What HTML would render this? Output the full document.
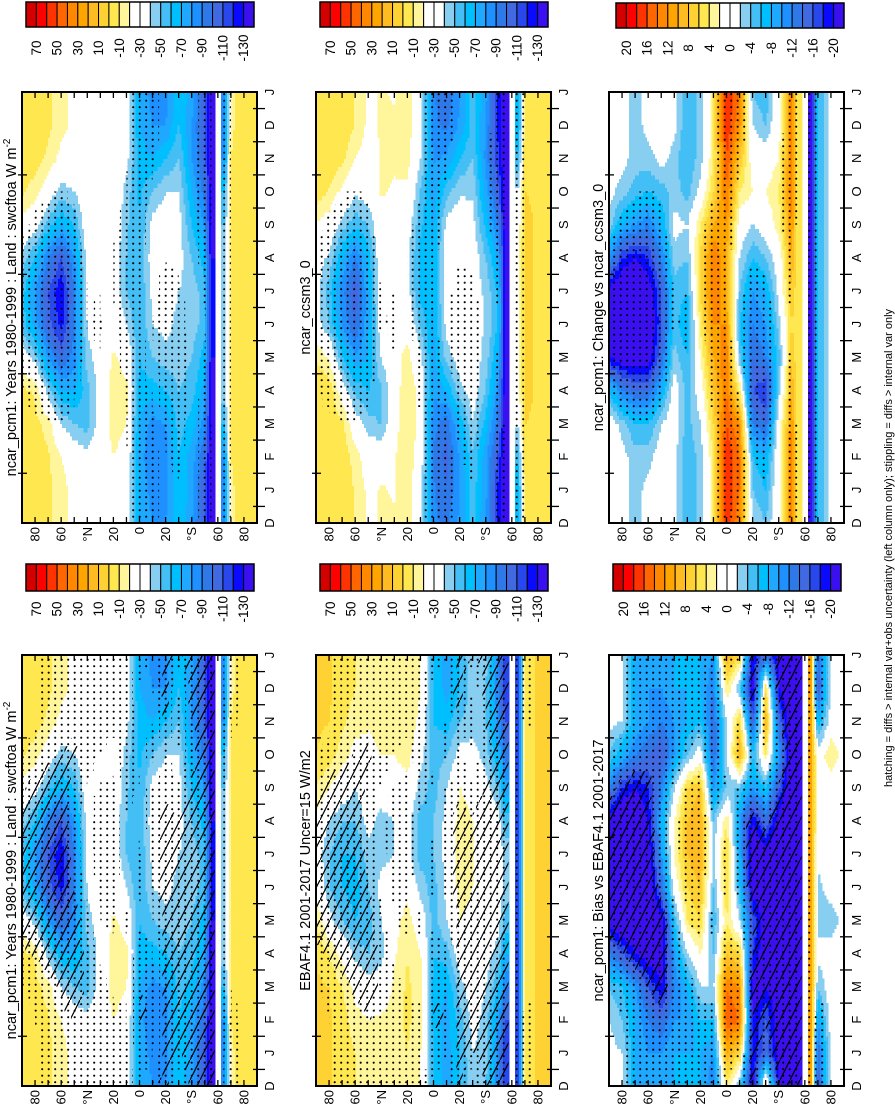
<!DOCTYPE html>
<html><head><meta charset="utf-8">
<style>
html,body{margin:0;padding:0;background:#fff;}
svg{display:block;font-family:"Liberation Sans",Arial,sans-serif;}
</style></head>
<body>
<svg id="fig" width="895" height="1105" viewBox="0 0 895 1105" xmlns="http://www.w3.org/2000/svg">
<defs>
<pattern id="dots" patternUnits="userSpaceOnUse" width="6.5" height="6.5"><circle cx="3.2" cy="3.2" r="1.05" fill="#000"/></pattern>
<pattern id="hatch" patternUnits="userSpaceOnUse" width="10" height="20"><path d="M0,20 L10,0" stroke="#000" stroke-width="1.2" fill="none"/></pattern>
</defs>
<g id="layer"></g>
</svg>
<script>
// ---------- data ----------
const LATS=[90,80,70,60,50,40,30,20,10,0,-10,-20,-30,-40,-50,-55,-60,-65,-70,-80,-90];
const MONTH_LABELS=['D','J','F','M','A','M','J','J','A','S','O','N','D','J'];
const LAT_TICK_VALUES=[80,60,40,20,0,-20,-40,-60,-80];
const LAT_TICK_LABELS=['80','60','°N','20','0','20','°S','60','80'];
const SWCF_LEVELS=[70,60,50,40,30,20,10,0,-10,-20,-30,-40,-50,-60,-70,-80,-90,-100,-110,-120,-130];
const SWCF_LABELS=['70','50','30','10','-10','-30','-50','-70','-90','-110','-130'];
const DIFF_LEVELS=[20,18,16,14,12,10,8,6,4,2,0,-2,-4,-6,-8,-10,-12,-14,-16,-18,-20];
const DIFF_LABELS=['20','16','12','8','4','0','-4','-8','-12','-16','-20'];
const COLORS=['#d40000','#ff0000','#ff3300','#ff6600','#ff8800','#ffa500','#ffbb22','#ffd234','#ffe84f','#fff59a','#ffffff','#ffffff','#87cef0','#44bff5','#00bfff','#1ea8ff','#1e90ff','#2f78e8','#4169e1','#2848ee','#0a0aff','#3a10f0'];

// rows follow LATS, columns Jan..Dec
const PCM1=[
[-3,-3,-3,-6,-30,-55,-55,-45,-25,-8,-3,-3],
[-5,-5,-6,-12,-45,-75,-80,-60,-35,-15,-5,-5],
[-8,-8,-15,-45,-80,-105,-110,-90,-55,-30,-12,-8],
[-15,-20,-40,-70,-100,-125,-130,-110,-70,-45,-25,-15],
[-25,-30,-50,-70,-85,-90,-90,-80,-60,-40,-30,-25],
[-25,-35,-55,-55,-45,-38,-35,-32,-28,-25,-25,-25],
[-25,-25,-30,-32,-32,-30,-28,-25,-25,-25,-25,-25],
[-22,-20,-16,-15,-18,-25,-30,-30,-28,-24,-22,-22],
[-30,-25,-20,-18,-25,-40,-50,-50,-48,-45,-35,-30],
[-70,-75,-70,-65,-60,-60,-60,-60,-60,-62,-65,-70],
[-85,-90,-85,-65,-50,-40,-35,-30,-35,-50,-70,-80],
[-85,-85,-80,-60,-45,-35,-30,-30,-30,-40,-60,-80],
[-60,-60,-55,-50,-45,-45,-40,-35,-35,-40,-50,-60],
[-75,-75,-65,-55,-50,-45,-45,-50,-60,-70,-80,-80],
[-110,-100,-85,-75,-65,-55,-55,-65,-80,-95,-105,-110],
[-140,-140,-135,-135,-130,-130,-130,-130,-135,-135,-140,-140],
null,
[-90,-80,-60,-45,-45,-45,-45,-45,-50,-60,-80,-90],
[-12,-10,-8,-6,-6,-6,-6,-6,-6,-8,-10,-12],
[-5,-5,-5,-5,-5,-5,-5,-5,-5,-5,-5,-5],
[-4,-4,-4,-4,-4,-4,-4,-4,-4,-4,-4,-4]];
const CCSM3=[
[-3,-3,-3,0,-10,-33,-33,-35,-21,-4,0,-3],
[0,0,0,0,-23,-51,-56,-42,-27,-11,-2,-1],
[-2,-2,-7,-31,-58,-81,-86,-70,-45,-24,-7,-2],
[-11,-15,-32,-54,-78,-101,-108,-92,-58,-37,-20,-11],
[-23,-28,-46,-60,-69,-72,-72,-66,-50,-32,-26,-23],
[-19,-29,-51,-52,-39,-30,-27,-26,-24,-19,-19,-19],
[-21,-21,-26,-28,-26,-22,-22,-21,-23,-21,-19,-19],
[-14,-12,-10,-11,-16,-27,-34,-36,-32,-22,-16,-14],
[-34,-29,-26,-26,-35,-52,-64,-64,-58,-51,-39,-34],
[-88,-93,-86,-79,-74,-72,-70,-70,-72,-76,-81,-88],
[-99,-104,-97,-69,-46,-34,-31,-28,-35,-54,-78,-92],
[-81,-79,-68,-44,-31,-23,-20,-24,-28,-42,-60,-78],
[-54,-52,-41,-32,-33,-35,-32,-31,-35,-42,-50,-56],
[-77,-77,-65,-51,-44,-41,-43,-50,-64,-76,-84,-82],
[-124,-114,-97,-85,-73,-61,-63,-75,-92,-109,-119,-124],
[-144,-144,-139,-139,-134,-134,-134,-134,-139,-139,-144,-144],
null,
[-68,-58,-38,-23,-23,-23,-23,-23,-28,-38,-58,-68],
[-4,-2,0,2,2,2,2,2,2,0,-2,-4],
[-1,-1,-1,-1,-1,-1,-1,-1,-1,-1,-1,-1],
[-2,-2,-2,-2,-2,-2,-2,-2,-2,-2,-2,-2]];
const EBAF=[
[2,2,2,0,-10,-25,-30,-25,-10,0,2,2],
[2,2,0,-10,-35,-50,-50,-40,-20,-5,0,2],
[-5,-5,-10,-25,-50,-60,-60,-50,-30,-15,-8,-5],
[-10,-15,-25,-45,-60,-65,-60,-50,-40,-25,-15,-10],
[-15,-20,-35,-50,-55,-50,-45,-35,-30,-25,-18,-15],
[-15,-18,-30,-45,-40,-35,-45,-45,-30,-20,-15,-15],
[-15,-15,-18,-22,-25,-28,-40,-40,-28,-20,-15,-15],
[-10,-8,-8,-10,-15,-25,-35,-35,-25,-15,-10,-10],
[-20,-15,-15,-20,-30,-45,-55,-55,-45,-35,-25,-20],
[-60,-65,-65,-60,-55,-55,-50,-50,-55,-55,-60,-60],
[-75,-75,-70,-55,-40,-35,-35,-35,-40,-50,-65,-75],
[-60,-55,-45,-30,-20,-15,-15,-15,-20,-35,-50,-60],
[-40,-35,-30,-30,-25,-20,-20,-20,-25,-35,-45,-45],
[-45,-45,-40,-35,-30,-25,-20,-25,-35,-45,-50,-50],
[-85,-80,-60,-45,-35,-30,-30,-35,-50,-70,-85,-90],
[-120,-110,-90,-70,-55,-45,-45,-55,-75,-95,-110,-120],
null,
[-120,-120,-120,-120,-120,-120,-120,-120,-120,-120,-120,-120],
[-5,-5,-5,-5,-5,-5,-5,-5,-5,-5,-5,-5],
[2,2,2,2,2,2,2,2,2,2,2,2],
[2,2,2,2,2,2,2,2,2,2,2,2]];
const CHANGE=[
[0,0,0,-6,-20,-22,-22,-10,-3,-1,-1,0],
[-1,-1,-3,-12,-22,-24,-24,-18,-8,-3,-1,-1],
[-3,-3,-6,-14,-22,-24,-24,-20,-10,-5,-3,-3],
[-1,-3,-6,-14,-22,-24,-22,-18,-12,-6,-3,-1],
[0,0,-2,-8,-14,-16,-16,-12,-8,-5,-1,0],
[-1,-1,0,0,-3,-5,-5,-3,-1,-3,-3,-1],
[-6,-6,-5,-5,-6,-8,-6,-4,-2,-5,-6,-6],
[-3,-3,-2,0,2,4,6,6,4,-1,-3,-3],
[4,4,6,8,10,12,14,14,10,6,4,4],
[18,18,16,14,14,12,10,10,12,14,16,18],
[14,14,12,4,-4,-6,-4,-2,0,4,8,12],
[-4,-6,-12,-16,-14,-12,-10,-6,-2,2,0,-2],
[-6,-8,-14,-18,-12,-10,-8,-4,0,2,0,-4],
[1,1,0,-3,-5,-3,-1,0,3,4,2,1],
[14,14,12,10,8,6,8,10,12,14,14,14],
[4,4,4,4,4,4,4,4,4,4,4,4],
null,
[-22,-22,-22,-22,-22,-22,-22,-22,-22,-22,-22,-22],
[-6,-6,-6,-6,-6,-6,-6,-6,-6,-6,-6,-6],
[-1,-1,-1,-1,-1,-1,-1,-1,-1,-1,-1,-1],
[0,0,0,0,0,0,0,0,0,0,0,0]];
const BIAS=[
[-1,-2,-4,-12,-22,-24,-24,-22,-12,-4,-1,-1],
[-2,-4,-6,-16,-24,-24,-24,-24,-18,-8,-2,-2],
[-8,-8,-10,-20,-24,-24,-24,-24,-20,-12,-8,-8],
[-10,-12,-16,-22,-24,-24,-22,-20,-18,-14,-10,-10],
[-10,-14,-20,-22,-22,-14,-10,-8,-12,-16,-12,-10],
[-8,-10,-12,-10,-6,0,2,2,-2,-10,-10,-8],
[-8,-10,-8,-2,4,6,8,8,6,-4,-8,-8],
[-8,-6,-2,2,6,8,10,10,8,0,-6,-8],
[-10,-6,-2,-4,-6,-4,-2,-4,-10,-14,-14,-12],
[10,16,14,8,4,6,6,4,-4,-2,-2,4],
[6,14,12,6,-2,-6,-8,-10,-4,10,6,-4],
[-20,-20,-22,-18,-16,-22,-24,-20,-10,-6,-16,-22],
[-14,-16,-20,-22,-22,-22,-22,-14,-6,4,10,6],
[-22,-22,-22,-22,-22,-22,-22,-22,-16,-10,-14,-20],
[-24,-24,-24,-24,-24,-24,-24,-24,-24,-24,-24,-24],
[-24,-24,-24,-24,-24,-24,-24,-24,-24,-24,-24,-24],
null,
[10,10,10,10,10,10,10,10,10,10,10,10],
[-14,-10,-4,-1,-3,-3,-1,0,0,0,-8,-16],
[-1,0,0,0,-4,0,0,-2,0,4,0,-1],
[0,0,0,0,0,0,0,0,0,0,0,0]];

// ---------- layout ----------
const W=235,H=431;
const PANELS=[
 {name:'pcm1-climatology-panel',x:22,y:92,field:PCM1,levels:SWCF_LEVELS,stip:CHANGE,stipT:6,hatch:null,title:'ncar_pcm1: Years 1980-1999 : Land : swcftoa W m',sup:'-2'},
 {name:'ccsm3-climatology-panel',x:316,y:92,field:CCSM3,levels:SWCF_LEVELS,stip:CHANGE,stipT:6,hatch:null,title:'ncar_ccsm3_0'},
 {name:'change-panel',x:609,y:92,field:CHANGE,levels:DIFF_LEVELS,stip:CHANGE,stipT:6,hatch:null,title:'ncar_pcm1: Change vs ncar_ccsm3_0'},
 {name:'pcm1-hatched-panel',x:22,y:655,field:PCM1,levels:SWCF_LEVELS,stip:BIAS,stipT:4,hatch:BIAS,hatchT:14,title:'ncar_pcm1: Years 1980-1999 : Land : swcftoa W m',sup:'-2'},
 {name:'ebaf-obs-panel',x:316,y:655,field:EBAF,levels:SWCF_LEVELS,stip:BIAS,stipT:4,hatch:BIAS,hatchT:14,title:'EBAF4.1 2001-2017 Uncer=15 W/m2'},
 {name:'bias-panel',x:609,y:655,field:BIAS,levels:DIFF_LEVELS,stip:BIAS,stipT:4,hatch:BIAS,hatchT:16,title:'ncar_pcm1: Bias vs EBAF4.1 2001-2017'}
];
const CBARS=[
 {x:26,y:2,h:25,levels:SWCF_LABELS,ly:48},{x:320,y:2,h:25,levels:SWCF_LABELS,ly:48},{x:616,y:3,h:25,levels:DIFF_LABELS,ly:48},
 {x:26,y:564,h:27,levels:SWCF_LABELS,ly:609},{x:320,y:564,h:27,levels:SWCF_LABELS,ly:609},{x:613,y:564,h:27,levels:DIFF_LABELS,ly:609}
];

const NS='http://www.w3.org/2000/svg';
const root=document.getElementById('layer');
function el(tag,parent,attrs){const e=document.createElementNS(NS,tag);for(const k in attrs)e.setAttribute(k,attrs[k]);parent.appendChild(e);return e;}
function xOf(p,lat){return p.x+(90-lat)/180*W;}
function yOf(p,t){return p.y+H-t/13*H;}
function mod(a,n){return ((a%n)+n)%n;}
function rowAt(field,row,t){const p=t-1;const p0=Math.floor(p);const f=p-p0;return row[mod(p0,12)]*(1-f)+row[mod(p0+1,12)]*f;}
function val(field,lat,t){
  let j=0;while(j<LATS.length-2&&LATS[j+1]>lat)j++;
  const w=(LATS[j]-lat)/(LATS[j]-LATS[j+1]);
  const r0=field[j],r1=field[j+1];
  if(!r0&&!r1)return null;
  if(!r0){return w<0.5?null:rowAt(field,r1,t);}
  if(!r1){return w>0.5?null:rowAt(field,r0,t);}
  return rowAt(field,r0,t)*(1-w)+rowAt(field,r1,t)*w;
}
function colorFor(levels,v){if(v===null)return null;let i=0;for(const b of levels){if(v<b)i++;}return COLORS[i];}

PANELS.forEach(p=>{
  const g=el('g',root,{});
  
  
  const fill=el('g',g,{'shape-rendering':'crispEdges'});
  
  
  const NT=104,NL=118;
  for(let i=0;i<NT;i++){
    const t=(i+0.5)*13/NT;
    const yt=yOf(p,(i+1)*13/NT),hh=H/NT+0.5;
    let runC=null,runS=0;
    for(let j=0;j<=NL;j++){
      let c='END';
      if(j<NL){const lat=90-(j+0.5)*180/NL;c=colorFor(p.levels,val(p.field,lat,t));if(c==='#ffffff')c=null;}
      if(c!==runC){
        if(runC){const r=el('rect',fill,{x:(p.x+runS*W/NL).toFixed(2),y:yt.toFixed(2),width:((j-runS)*W/NL+0.4).toFixed(2),height:hh.toFixed(2),fill:runC});
          
          }
        runC=c;runS=j;
      }
    }
  }
  const overlays=[[p.stip,p.stipT,'url(#dots)','stipple-region']];
  if(p.hatch)overlays.push([p.hatch,p.hatchT,'url(#hatch)','hatch-region']);
  overlays.forEach(([fld,thr,pat,nm])=>{
    const og=el('g',g,{});
    
    
    const NT=52,NL=72;
    for(let i=0;i<NT;i++){
      const t=(i+0.5)*13/NT;const yt=yOf(p,(i+1)*13/NT);
      let on=false,s=0;
      for(let j=0;j<=NL;j++){
        let c=false;
        if(j<NL){const lat=90-(j+0.5)*180/NL;const v=val(fld,lat,t);c=v!==null&&Math.abs(v)>thr;}
        if(c!==on){
          if(on){const r=el('rect',og,{x:(p.x+s*W/NL).toFixed(2),y:yt.toFixed(2),width:((j-s)*W/NL).toFixed(2),height:(H/NT).toFixed(2),fill:pat});
            
            }
          on=c;s=j;
        }
      }
    }
  });
  const fr=el('rect',g,{x:p.x,y:p.y,width:W,height:H,fill:'none',stroke:'#000','stroke-width':2});
  
  
  for(let lat=80;lat>=-80;lat-=10){
    const x=xOf(p,lat);
    el('line',g,{x1:x,y1:p.y,x2:x,y2:p.y+6,stroke:'#000','stroke-width':1.3});
    el('line',g,{x1:x,y1:p.y+H,x2:x,y2:p.y+H-6,stroke:'#000','stroke-width':1.3});
  }
  const xa=el('g',g,{});
  
  
  LAT_TICK_VALUES.forEach((lat,k)=>{
    const x=xOf(p,lat)+4.5,y=p.y+H+4;
    const tx=el('text',xa,{x:x,y:y,'font-size':13,'text-anchor':'end',transform:`rotate(-90 ${x} ${y})`});
    tx.textContent=LAT_TICK_LABELS[k];
    
    
  });
  const ya=el('g',g,{});
  
  
  for(let k=0;k<13;k++){
    const y=yOf(p,k+0.5);
    el('line',ya,{x1:p.x+W-4,y1:y,x2:p.x+W+8,y2:y,stroke:'#000','stroke-width':1.3});
    if(k%3===1)el('line',ya,{x1:p.x-4,y1:y,x2:p.x+5,y2:y,stroke:'#000','stroke-width':1.3});
  }
  MONTH_LABELS.forEach((m,k)=>{
    const x=p.x+W+17,y=yOf(p,k);
    const tx=el('text',ya,{x:x,y:y,'font-size':13,'text-anchor':'middle',transform:`rotate(-90 ${x} ${y})`});
    tx.textContent=m;
    
    
  });
  const tx0=p.x-6,ty0=p.y+H/2;
  const tt=el('text',g,{x:tx0,y:ty0,'font-size':14.5,'text-anchor':'middle',transform:`rotate(-90 ${tx0} ${ty0})`});
  tt.textContent=p.title;
  if(p.sup){const s=el('tspan',tt,{dy:-6,'font-size':10});s.textContent=p.sup;}
  
  
});

CBARS.forEach(cb=>{
  const g=el('g',root,{});
  
  
  const bw=228/22;
  COLORS.forEach((c,i)=>{
    const r=el('rect',g,{x:cb.x+i*bw,y:cb.y,width:bw,height:cb.h,fill:c,stroke:'#000','stroke-width':1});
    
    
  });
  el('rect',g,{x:cb.x,y:cb.y,width:228,height:cb.h,fill:'none',stroke:'#000','stroke-width':1.5});
  cb.levels.forEach((lab,k)=>{
    const x=cb.x+(1+2*k)*bw+4.5,y=cb.ly;
    const t=el('text',g,{x:x,y:y,'font-size':13.5,'text-anchor':'middle',transform:`rotate(-90 ${x} ${y})`});
    t.textContent=lab;
    
    
  });
});

const fx=892,fy=548;
const ft=el('text',root,{x:fx,y:fy,'font-size':11,'text-anchor':'middle',transform:`rotate(-90 ${fx} ${fy})`});
ft.textContent='hatching = diffs > internal var+obs uncertainty (left column only); stippling = diffs > internal var only';


</script>
</body></html>
